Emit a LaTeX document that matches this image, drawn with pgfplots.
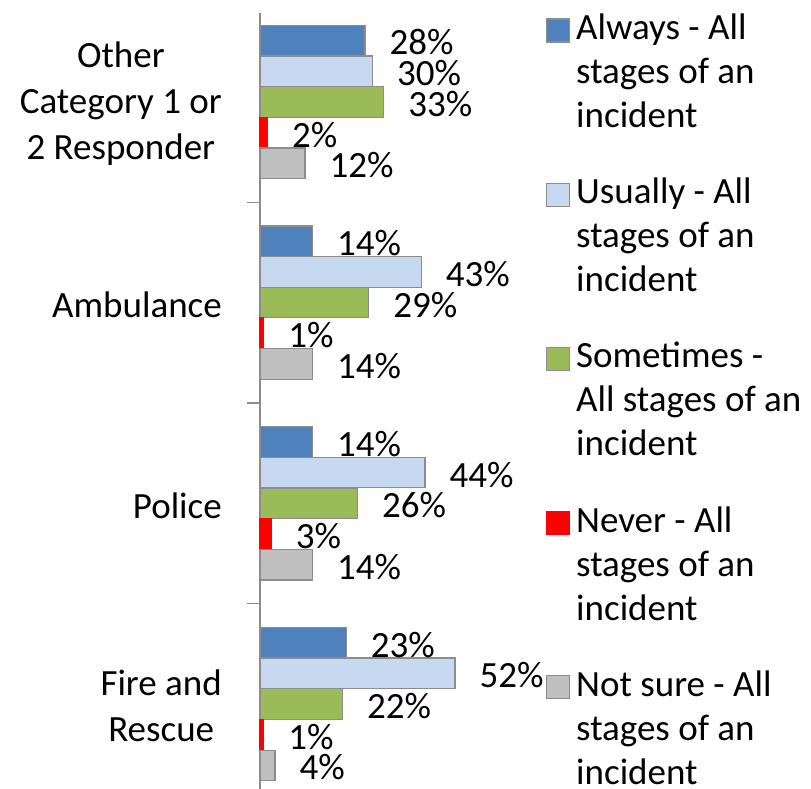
\documentclass[border=0pt]{standalone}
\usepackage{fontspec}
\setmainfont{Carlito}
\usepackage{pgfplots}
\pgfplotsset{compat=1.18}
\definecolor{cAlways}{HTML}{4F81BD}
\definecolor{cUsually}{HTML}{C6D9F1}
\definecolor{cSometimes}{HTML}{9BBB59}
\definecolor{cNever}{HTML}{FF0000}
\definecolor{cNotsure}{HTML}{BFBFBF}
\definecolor{cEdge}{HTML}{8C8C8C}
\begin{document}
\begin{tikzpicture}
\useasboundingbox (0pt,0pt) rectangle (811pt,-789pt);
\begin{axis}[
  at={(260pt,-13pt)}, anchor=north west,
  scale only axis, width=281.25pt, height=776pt,
  xmin=0, xmax=75, ymin=-0.4235, ymax=3.443,
  axis x line=none,
  axis y line=left,
  axis line style={-, draw=cEdge, line width=1.5pt},
  y axis line style={-},
  ytick={0,1,2,3},
  yticklabels={{Fire and\\Rescue},{Police},{Ambulance},{Other\\Category 1 or\\2 Responder}},
  minor ytick={0.5,1.5,2.5},
  major tick length=0pt,
  minor tick length=13pt,
  tick align=outside,
  tick style={draw=cEdge, line width=1.5pt},
  yticklabel style={align=center, inner sep=0pt, font=\fontsize{37}{46}\selectfont, xshift=-38pt, yshift=-2pt},
  xbar, bar width=0.152,
  clip=false,
  point meta=x,
  nodes near coords={\pgfmathprintnumber{\pgfplotspointmeta}\%},
  every node near coord/.append style={anchor=west, inner sep=0pt, xshift=24pt, yshift=-2pt, font=\fontsize{37}{45}\selectfont, text=black},
  /pgf/number format/assume math mode=true,
  legend image code/.code={\draw[#1] (0pt,-5pt) rectangle (23pt,-28pt);},
  legend style={at={(axis description cs:0,1)}, anchor=north west, xshift=286pt, yshift=-1pt, draw=none, fill=none, inner sep=0pt, outer sep=0pt, row sep=49pt, column sep=6pt, cells={anchor=north west}, nodes={inner sep=0pt, align=left, font=\fontsize{37}{44}\selectfont}},
]
\addplot[fill=cAlways, draw=cEdge, line width=1.2pt, bar shift=0.306] coordinates {(23,0) (14,1) (14,2) (28,3)};
\addlegendentry{Always - All\\stages of an\\incident}
\addplot[fill=cUsually, draw=cEdge, line width=1.2pt, bar shift=0.153] coordinates {(52,0) (44,1) (43,2) (30,3)};
\addlegendentry{Usually - All\\stages of an\\incident}
\addplot[fill=cSometimes, draw=cEdge, line width=1.2pt, bar shift=0] coordinates {(22,0) (26,1) (29,2) (33,3)};
\addlegendentry{Sometimes -\\All stages of an\\incident}
\addplot[fill=cNever, draw=cNever, line width=1.2pt, bar shift=-0.153] coordinates {(1,0) (3,1) (1,2) (2,3)};
\addlegendentry{Never - All\\stages of an\\incident}
\addplot[fill=cNotsure, draw=cEdge, line width=1.2pt, bar shift=-0.306] coordinates {(4,0) (14,1) (14,2) (12,3)};
\addlegendentry{Not sure - All\\stages of an\\incident}
\end{axis}
\end{tikzpicture}
\end{document}
